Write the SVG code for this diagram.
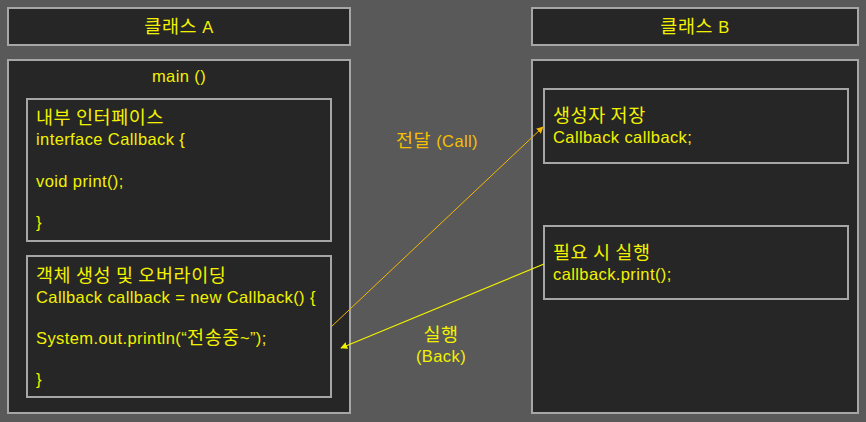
<svg xmlns="http://www.w3.org/2000/svg" width="866" height="422" viewBox="0 0 866 422">
<style>
.box{fill:#262626;stroke:#a6a6a6;stroke-width:2}
text{font-family:"Liberation Sans","Noto Sans CJK KR",sans-serif;font-size:16.5px;letter-spacing:0.4px;fill:#f2f200}
.k{font-family:"Noto Sans CJK KR",sans-serif;font-size:18.5px;letter-spacing:0.6px}
.c{text-anchor:middle}
.lab{fill:#f5c000}
</style>
<defs>
<marker id="ah1" viewBox="0 0 10 10" refX="9" refY="5" markerWidth="7" markerHeight="7" markerUnits="userSpaceOnUse" orient="auto"><path d="M0,0 L10,5 L0,10 Z" fill="#f5b800"/></marker>
<marker id="ah2" viewBox="0 0 10 10" refX="9" refY="5" markerWidth="7" markerHeight="7" markerUnits="userSpaceOnUse" orient="auto"><path d="M0,0 L10,5 L0,10 Z" fill="#f2f200"/></marker>
</defs>
<rect width="866" height="422" fill="#595959"/>
<g id="classA-header"><rect class="box" x="8" y="8" width="342" height="37"/><text class="c" x="179" y="33"><tspan class="k">클래스</tspan> A</text></g>
<g id="classA-main"><rect class="box" x="8" y="60" width="342" height="353"/><text class="c" x="179" y="82">main ()</text></g>
<g id="interface"><rect class="box" x="27" y="99" width="304" height="142"/>
<text x="36" y="123.5" class="k">내부 인터페이스</text><text x="36" y="145">interface Callback {</text><text x="36" y="187">void print();</text><text x="36" y="228">}</text></g>
<g id="object"><rect class="box" x="27" y="256" width="304" height="141"/>
<text x="36" y="281.5" class="k">객체 생성 및 오버라이딩</text><text x="36" y="302.5">Callback callback = new Callback() {</text><text x="36" y="344">System.out.println(“<tspan class="k">전송중</tspan>~”);</text><text x="36" y="385">}</text></g>
<g id="classB-header"><rect class="box" x="532" y="8" width="326" height="37"/><text class="c" x="695" y="33"><tspan class="k">클래스</tspan> B</text></g>
<g id="classB-main"><rect class="box" x="532" y="60" width="326" height="353"/></g>
<g id="store"><rect class="box" x="544" y="89" width="304" height="74"/><text x="553" y="121.5" class="k">생성자 저장</text><text x="553" y="142.5">Callback callback;</text></g>
<g id="run"><rect class="box" x="544" y="226" width="304" height="73"/><text x="553" y="259" class="k">필요 시 실행</text><text x="553" y="280">callback.print();</text></g>
<g id="connectors">
<line x1="331" y1="327" x2="543" y2="127" stroke="#f5b800" stroke-width="1" marker-end="url(#ah1)"/>
<line x1="544" y1="264" x2="341" y2="348" stroke="#f2f200" stroke-width="1.2" marker-end="url(#ah2)"/>
<text class="c lab" x="437" y="147"><tspan class="k">전달</tspan> (Call)</text>
<text class="c k" x="441" y="341">실행</text>
<text class="c" x="441" y="362">(Back)</text>
</g>
</svg>
